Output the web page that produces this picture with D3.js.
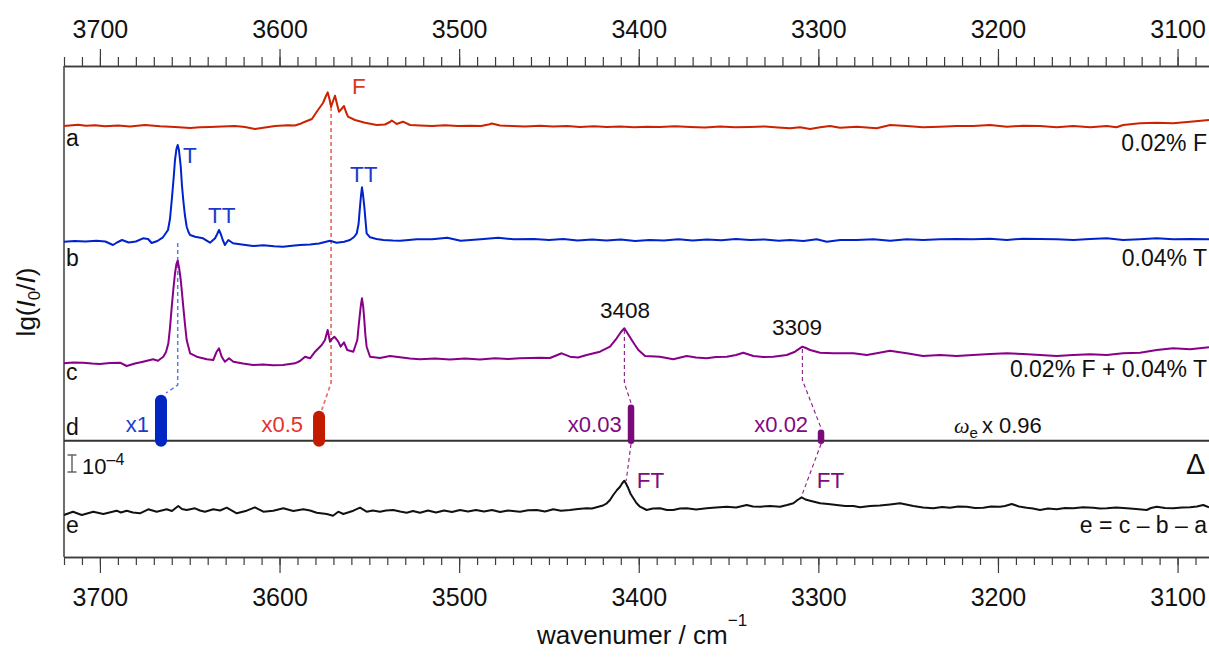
<!DOCTYPE html>
<html><head><meta charset="utf-8">
<script src="https://cdn.jsdelivr.net/npm/d3@7"></script>
<style>
body{margin:0;background:#fff}
svg{display:block}
text{font-family:"Liberation Sans",Arial,Helvetica,sans-serif}
</style>
</head><body>
<svg id="chart" width="1209" height="657"></svg>
<script>
// ---- data: [wavenumber (cm-1), signal relative to trace baseline (arb. units, 17 = 1e-4)] ----
const traceA = [[3720,0],[3712.2,1.3],[3707.8,0.3],[3702.7,0.7],[3697.2,-0.3],[3689.9,0.4],[3683.3,-0.5],[3674.9,1],[3666.5,-0.3],[3658.2,-1],[3649.8,-2],[3644.3,-1.3],[3638.7,-1],[3632,-0.5],[3624.8,0],[3619.2,-1],[3613.7,-3],[3608.1,-1.5],[3602.5,0],[3595.3,0.7],[3591.4,0.5],[3588,2.5],[3585.8,4.3],[3582,7],[3578.6,16],[3575.8,23],[3574.4,29],[3573.2,33.7],[3572.2,27],[3571.3,19.3],[3570.2,25],[3569.1,30.3],[3568,22],[3566.9,14.3],[3565.5,17],[3564.1,20],[3563,14],[3561.9,9.3],[3558,6],[3552.4,3.3],[3545.9,1],[3541.3,1.5],[3538.5,4],[3537.5,5.5],[3535.5,3],[3534.8,2],[3531.3,4.3],[3527.3,1],[3521.8,0.5],[3515.1,0],[3507.9,0.7],[3500.6,0],[3494,0.3],[3487.8,0],[3483,1.8],[3481.9,2.5],[3477.2,0.5],[3470.6,0],[3463.3,-0.5],[3455,0.3],[3447.7,-0.5],[3439.9,0],[3432.7,-1],[3424.9,-0.3],[3417.7,-1],[3410.4,-0.5],[3402.6,-1.3],[3395.4,-0.7],[3388.2,-1],[3379.8,-0.3],[3371.4,-1],[3363.1,-1.5],[3354.7,-0.5],[3346.4,-1.3],[3338,-1],[3329.7,-0.5],[3322.5,-1.5],[3315.8,-2.3],[3310.2,-1.3],[3304.6,-3],[3299,-1.3],[3293.5,0],[3287.9,-1.7],[3278.6,-0.7],[3267.5,-2.3],[3260,1],[3250.8,0],[3241.7,-1.3],[3232.3,-0.7],[3223,0],[3213.8,0],[3204.4,1],[3195,-0.7],[3186,0.3],[3176.6,0],[3167.3,-1.3],[3158,0],[3148.7,-1.3],[3139.4,0],[3134,-1.3],[3130.3,1],[3121,2.7],[3111.6,3.3],[3102.5,2.7],[3093,4.3],[3082.5,6]];

const traceB = [[3720,-0.7],[3714,0],[3708,-0.5],[3702,0.3],[3697,-0.5],[3692.7,-4],[3690.5,-1.5],[3687.7,1],[3684,-1.5],[3680,-0.5],[3676,2.7],[3673.2,2],[3671.2,-2],[3668,0],[3664.9,3.7],[3662.1,11],[3661,22],[3660,41],[3659,62],[3658.2,81],[3657.4,92],[3656.7,96],[3656,91],[3655,74.3],[3654.3,55],[3653.6,41],[3652.7,26],[3651.7,14.3],[3650.7,9],[3649.8,6],[3647,4.3],[3642.6,2.7],[3638.7,-1.7],[3635.9,2.7],[3634.7,7],[3633.7,11],[3632.7,7],[3631.6,1],[3630.4,-4],[3628.5,1],[3625.9,-2.3],[3621,-3.5],[3614.8,-5],[3609,-4.3],[3603,-5.3],[3598.1,-5.7],[3593,-4.7],[3588.6,-4],[3583,-3.5],[3578,-2.5],[3571.9,0.3],[3568.2,-1.7],[3564,-0.7],[3560.8,1],[3558.5,4],[3557,7.7],[3556,17],[3555.2,34.3],[3554.6,46],[3554.1,53.7],[3553.5,46],[3552.8,34.3],[3552,18],[3551.5,7.7],[3549.6,3.7],[3546,2],[3542.2,1],[3537,0.5],[3532.9,0.3],[3528,1],[3523.6,1.7],[3515,1.7],[3506.6,3.3],[3499.2,0.3],[3488,1.7],[3478.2,3.3],[3469.5,1.7],[3458.4,2],[3450,1],[3442,2],[3434,0.5],[3426,1.5],[3418,0.5],[3410,1.5],[3402,0],[3394,1],[3386,0.5],[3378,1.7],[3370,0.5],[3362,1.5],[3354,0.7],[3346,2],[3338,1],[3330,1.5],[3322,0.3],[3315.8,1],[3308.3,0],[3300.9,1.7],[3295.3,-0.7],[3287.9,1],[3278.6,1],[3269.3,1.7],[3260,0.3],[3250.8,1.7],[3241.7,1],[3232.3,1.7],[3223,2],[3213.8,1.7],[3204.4,2.3],[3195,1],[3186,2.3],[3176.6,2],[3167.3,1.7],[3158,1],[3148.7,2],[3139.4,2.7],[3130.3,1],[3121,1.7],[3111.6,2.7],[3102.5,1.7],[3093,2],[3082.5,1.7]];

const traceC = [[3720,-0.3],[3715,0.5],[3709.4,0.3],[3704.4,-0.5],[3700,-1],[3694.4,0],[3688.8,0.3],[3685.1,-3],[3680.5,-0.5],[3676,1.3],[3670.4,3.7],[3667.7,2.3],[3664.7,6.3],[3663.2,11],[3661.9,19.7],[3661,35],[3660,56.3],[3659.1,74],[3658.2,89.7],[3657.4,99],[3656.7,102.3],[3655.9,95],[3655,83],[3654.3,70],[3653.6,56.3],[3652.6,38],[3651.7,23],[3649.8,9.7],[3646.1,6.3],[3640.5,3.7],[3636.9,3],[3635,11.3],[3633.7,14.7],[3632.2,6.3],[3630.4,1.3],[3628.1,4.7],[3625.7,1.3],[3620.3,-0.5],[3614.8,-2],[3609.2,-1.5],[3603.6,-2.3],[3598.1,-2],[3591.4,-0.3],[3588.6,2],[3585.8,6.3],[3583,4.7],[3580.2,11.3],[3576.5,18],[3574.7,23],[3573.2,33],[3571.9,21.3],[3570.8,24],[3569.5,26.3],[3568.4,24],[3567.3,21.3],[3566,16.3],[3564.1,20.7],[3562.3,13],[3558.9,11.3],[3556.7,23],[3555.9,38],[3555.2,49.7],[3554.7,58],[3554.1,64.7],[3553.4,56],[3552.8,43],[3552.2,28],[3551.5,16.3],[3549.6,6.3],[3544.1,5],[3538.5,7],[3532.9,5.7],[3527.4,4.5],[3521.8,3.7],[3513.4,4.5],[3505.1,3.5],[3496.7,4.5],[3488.4,3.5],[3480,4.7],[3472.8,4],[3466.1,4.7],[3455,5.3],[3449.4,5],[3442.9,9.7],[3438.3,6.3],[3433.8,5.5],[3429,8],[3421.6,11.3],[3416,16.3],[3412.3,24.7],[3409.9,31],[3408,34.7],[3406,29],[3403.9,23],[3402.1,18],[3400.2,13],[3396.5,7],[3388.2,6.3],[3380.8,3.7],[3373.3,7],[3368.1,5.5],[3362.2,4.7],[3357,6],[3351,6.3],[3345.8,8],[3341.8,10.3],[3336.2,7],[3330.8,6],[3325.1,6.3],[3317.6,8],[3313,11.3],[3308.9,16.3],[3306.9,15],[3304.6,13],[3299,10.3],[3291.7,9.7],[3280.5,9.7],[3273,8],[3266.8,10],[3260.1,12.3],[3255.6,11],[3250.8,9.7],[3241.7,7],[3232.3,8],[3223,7],[3213.9,8],[3204.4,9],[3195.1,9.7],[3186,9],[3176.6,8],[3167.3,7],[3158.2,8],[3148.7,8.7],[3139.4,8],[3130.4,9.7],[3120.9,10.3],[3111.6,13],[3102.5,14.7],[3093,13.7],[3082.5,15.7]];

const traceE = [[3720,-3],[3715,0.3],[3710.1,-3],[3703.7,0.3],[3698.1,-2],[3690.7,1.3],[3688.3,-0.5],[3685.1,1.3],[3681.6,-0.5],[3677.7,-1.3],[3673.1,2.7],[3668.4,0.3],[3662.8,2.7],[3659.9,1],[3656.4,6],[3654.3,3],[3651.7,2],[3647.1,3.7],[3644.3,1.5],[3641.5,0.3],[3636.9,2.7],[3633.1,1.5],[3629.4,4.3],[3623.8,-1.3],[3618.3,1.3],[3613.7,4.7],[3609,0.3],[3603.5,1.3],[3597.9,3.7],[3592.3,1],[3586.8,2.7],[3583,1.5],[3579.3,-0.7],[3573.7,-2],[3570.2,-3.7],[3567.3,0.3],[3564.5,-2],[3558.9,1.3],[3555.2,4.3],[3551.5,0.3],[3548,1.5],[3544.1,0.3],[3540.7,1.5],[3536.7,2],[3532.9,0.5],[3529.2,-0.7],[3525.7,1],[3521.8,-0.7],[3517.3,1.5],[3512.9,-0.5],[3508.4,1.5],[3504,0],[3499.5,2],[3495.1,0.5],[3490.6,2],[3486.1,0.5],[3481.7,2],[3477.2,0],[3472.8,1.5],[3466.1,0.3],[3461.6,1.8],[3456.8,2],[3452.2,0.5],[3447.6,2.7],[3443.3,1.3],[3438.3,2],[3433.8,3],[3429,3.7],[3426,3.5],[3422.5,5.3],[3419.9,6.5],[3417.8,8.7],[3416,12],[3414.2,17],[3412.1,22],[3410.4,25.3],[3409.3,28.5],[3408,31.3],[3407.1,28.5],[3405.8,23.7],[3404.5,18],[3403,13.7],[3401.3,9],[3399.3,5.3],[3395.6,2],[3392.1,3.5],[3388.2,3.7],[3384.3,2],[3380.8,2],[3377.1,3.5],[3373.3,3.7],[3368.1,2.5],[3362.2,3.7],[3357,4.5],[3351,5.3],[3345.8,4.5],[3339.9,7],[3336.4,5.5],[3332.5,5.3],[3326.9,6],[3321.3,5.3],[3317.4,7],[3313.9,8.7],[3311.6,12],[3309.3,14.7],[3307.2,12.5],[3304.6,11.3],[3301.8,10],[3299,8.7],[3294.6,8],[3289.8,7],[3285.1,6],[3280.5,6],[3276.8,4.7],[3271.2,6],[3265.7,6.5],[3260.1,7.5],[3254.5,8.7],[3247.1,6],[3241.7,4.5],[3236,3.7],[3231.1,5],[3226.7,4.3],[3222.2,5.5],[3217.4,5.3],[3212.8,4],[3208.1,4.3],[3203.9,5.5],[3198.8,5.3],[3196.1,6],[3192.3,8],[3188.3,5.5],[3184,4.3],[3180.5,3.5],[3176.6,2],[3172.1,3.5],[3167.3,2.7],[3162.7,4],[3158,3.7],[3152.6,4.7],[3146.9,4.3],[3143.2,3.5],[3139.4,3.7],[3134.2,4.5],[3128.3,3.7],[3123.1,3],[3117.2,2],[3114.8,4],[3111.6,5.3],[3107,4],[3102.4,3.7],[3097.5,4.5],[3093.1,4.7],[3089.2,5.5],[3085.7,7],[3082.5,4.7]];

// stick spectrum d (scaled harmonic wavenumbers, omega_e x 0.96)
const stickWn = [3666, 3578, 3404.3, 3298.5];
const stickHeight = [40, 24, 33, 8];
const stickLabels = ["x1", "x0.5", "x0.03", "x0.02"];

// axis ticks
const majorTicks = [3700, 3600, 3500, 3400, 3300, 3200, 3100];
const minorTicks = d3.range(3720, 3081, -10);

// trace names and legends
const traceNames = ["a", "b", "c", "d", "e"];
const traceLegends = ["0.02% F", "0.04% T", "0.02% F + 0.04% T", "", "e = c \u2013 b \u2013 a"];
const scaleBarUnits = 17; // = 1e-4 lg(I0/I)

// ---- layout ----
const W = 1209, H = 657;
const L = 64, R = 1209, T = 66, B = 557;
const svg = d3.select("#chart");
svg.append("rect").attr("width", W).attr("height", H).attr("fill", "#fff");

const x = d3.scaleLinear().domain([3720, 3082.5]).range([L, R]);
const y = d3.scaleLinear().domain([0, 491]).range([B, T]);

const offsets = [431, 316, 194, 116.3, 45];
const colors = ["#cc2200", "#0022cc", "#880088", "#333333", "#111111"];
const axisColor = "#3c3c3c";

// axes
function styleAxis(g) {
  g.select(".domain").attr("stroke", axisColor).attr("stroke-width", 1.5);
  g.selectAll(".tick line").attr("stroke", axisColor).attr("stroke-width", 1.2);
  g.selectAll("text").attr("fill", "#111").attr("font-size", 25)
    .attr("font-family", '"Liberation Sans",Arial,sans-serif');
}
const topMinor = svg.append("g").attr("transform", `translate(0,${T})`)
  .call(d3.axisTop(x).tickValues(minorTicks).tickSize(9).tickSizeOuter(0).tickFormat(""));
styleAxis(topMinor);
const topMajor = svg.append("g").attr("transform", `translate(0,${T})`)
  .call(d3.axisTop(x).tickValues(majorTicks).tickSize(17).tickSizeOuter(0).tickFormat(d3.format("d")));
styleAxis(topMajor);
topMajor.selectAll("text").attr("y", -28).attr("dy", 0);

const botMinor = svg.append("g").attr("transform", `translate(0,${B})`)
  .call(d3.axisBottom(x).tickValues(minorTicks).tickSize(8).tickSizeOuter(0).tickFormat(""));
styleAxis(botMinor);
const botMajor = svg.append("g").attr("transform", `translate(0,${B})`)
  .call(d3.axisBottom(x).tickValues(majorTicks).tickSize(16).tickSizeOuter(0).tickFormat(d3.format("d")));
styleAxis(botMajor);
botMajor.selectAll("text").attr("y", 49).attr("dy", 0);

svg.append("line").attr("x1", L).attr("x2", L).attr("y1", T).attr("y2", B)
  .attr("stroke", axisColor).attr("stroke-width", 1.5);

// d baseline
svg.append("line").attr("x1", L).attr("x2", R).attr("y1", y(offsets[3])).attr("y2", y(offsets[3]))
  .attr("stroke", "#333").attr("stroke-width", 2);

// dashed connectors [ [wn, value], ... ] in absolute scale units
const connectors = [
  {c: "#5b78ea", w: 1.5, pts: [[3656.7, 314], [3656.7, 172], [3663.2, 164]]},
  {c: "#e8786a", w: 1.8, pts: [[3571.3, 450], [3571.3, 174], [3576.5, 147]]},
  {c: "#8a1a8a", w: 1.1, pts: [[3408, 227], [3408, 174], [3404.3, 154]]},
  {c: "#8a1a8a", w: 1.1, pts: [[3404.3, 113], [3407, 76]]},
  {c: "#8a1a8a", w: 1.1, pts: [[3308.9, 208], [3308.9, 177], [3298.5, 129]]},
  {c: "#8a1a8a", w: 1.1, pts: [[3298.5, 113], [3309.3, 61]]}
];
const cl = d3.line().x(d => x(d[0])).y(d => y(d[1]));
svg.append("g").selectAll("path").data(connectors).join("path")
  .attr("d", d => cl(d.pts)).attr("fill", "none")
  .attr("stroke", d => d.c).attr("stroke-width", d => d.w)
  .attr("stroke-dasharray", "4,3");

// traces
const line = d3.line().x(d => x(d[0]));
const traces = [traceA, traceB, traceC, null, traceE];
traces.forEach((t, i) => {
  if (!t) return;
  svg.append("path").datum(t)
    .attr("d", line.y(d => y(offsets[i] + d[1])))
    .attr("fill", "none").attr("stroke", colors[i]).attr("stroke-width", 2)
    .attr("stroke-linejoin", "round");
});

// sticks
const stickColors = ["#0026c4", "#c41a00", "#7a0a7a", "#7a0a7a"];
const stickWidths = [12, 12, 6.5, 6.5];
const stickTextColors = ["#1a3ccc", "#e8302a", "#800a80", "#800a80"];
stickWn.forEach((w, i) => {
  svg.append("line").attr("x1", x(w)).attr("x2", x(w))
    .attr("y1", y(offsets[3])).attr("y2", y(offsets[3] + stickHeight[i]))
    .attr("stroke", stickColors[i]).attr("stroke-width", stickWidths[i])
    .attr("stroke-linecap", "round");
});
const stickLabelWn = [3672.7, 3586.9, 3409.5, 3305.7];
stickLabels.forEach((s, i) => {
  svg.append("text").attr("x", x(stickLabelWn[i])).attr("y", 432)
    .attr("text-anchor", "end").attr("font-size", 22).attr("fill", stickTextColors[i]).text(s);
});

// trace letters and legends
const letterY = [146, 266, 380, 435, 533];
traceNames.forEach((n, i) => {
  svg.append("text").attr("x", 66).attr("y", letterY[i]).attr("font-size", 23).attr("fill", "#111").text(n);
});
const legendY = [151, 266, 377, 0, 533];
traceLegends.forEach((s, i) => {
  if (!s) return;
  svg.append("text").attr("x", 1207).attr("y", legendY[i]).attr("text-anchor", "end")
    .attr("font-size", 23).attr("fill", "#111").text(s);
});

// peak labels
const peakLabels = [
  {t: "F", wn: 3559.6, v: 463, c: "#d9381e", a: "start"},
  {t: "T", wn: 3653.7, v: 394, c: "#1a3acc", a: "start"},
  {t: "TT", wn: 3639.8, v: 334, c: "#1a3acc", a: "start"},
  {t: "TT", wn: 3560.8, v: 375, c: "#1a3acc", a: "start"},
  {t: "3408", wn: 3407.6, v: 239, c: "#111", a: "middle"},
  {t: "3309", wn: 3311.9, v: 222, c: "#111", a: "middle"},
  {t: "FT", wn: 3401.1, v: 69, c: "#800a80", a: "start"},
  {t: "FT", wn: 3300.9, v: 69, c: "#800a80", a: "start"}
];
svg.append("g").selectAll("text").data(peakLabels).join("text")
  .attr("x", d => x(d.wn)).attr("y", d => y(d.v)).attr("text-anchor", d => d.a)
  .attr("font-size", 22.5).attr("fill", d => d.c).text(d => d.t);

// omega_e x 0.96
const om = svg.append("text").attr("x", 954).attr("y", 433).attr("font-size", 22).attr("fill", "#111");
om.append("tspan").attr("font-family", '"Liberation Serif","Times New Roman",serif').attr("font-style", "italic").text("\u03c9");
om.append("tspan").attr("font-size", 15).attr("dy", 5).text("e");
om.append("tspan").attr("dy", -5).attr("dx", 4).text("x 0.96");

// Delta
svg.append("text").attr("x", 1186).attr("y", 474).attr("font-size", 29)
  .attr("font-family", '"Liberation Serif","Times New Roman",serif').attr("fill", "#111").text("\u0394");

// scale bar 1e-4
const sbBotV = offsets[4] + 40;
const sbTop = y(sbBotV + scaleBarUnits), sbBot = y(sbBotV);
const sb = svg.append("g").attr("stroke", "#666").attr("stroke-width", 1.5);
sb.append("line").attr("x1", 72).attr("x2", 72).attr("y1", sbTop).attr("y2", sbBot);
sb.append("line").attr("x1", 67.5).attr("x2", 76.5).attr("y1", sbTop).attr("y2", sbTop);
sb.append("line").attr("x1", 67.5).attr("x2", 76.5).attr("y1", sbBot).attr("y2", sbBot);
const sbt = svg.append("text").attr("x", 82).attr("y", 474).attr("font-size", 22).attr("fill", "#111");
sbt.append("tspan").text("10");
sbt.append("tspan").attr("font-size", 16).attr("dy", -9).text("\u20134");

// axis titles
const xt = svg.append("text").attr("x", 537).attr("y", 644).attr("font-size", 26).attr("fill", "#111");
xt.append("tspan").text("wavenumer / cm");
xt.append("tspan").attr("font-size", 17).attr("dy", -18).text("\u22121");

const yt = svg.append("text").attr("transform", "translate(35,302) rotate(-90)")
  .attr("text-anchor", "middle").attr("font-size", 26).attr("fill", "#111");
yt.append("tspan").text("lg(");
yt.append("tspan").attr("font-style", "italic").text("I");
yt.append("tspan").attr("font-size", 17).attr("dy", 5).text("0");
yt.append("tspan").attr("dy", -5).text("/");
yt.append("tspan").attr("font-style", "italic").text("I");
yt.append("tspan").text(")");
</script>
</body></html>
